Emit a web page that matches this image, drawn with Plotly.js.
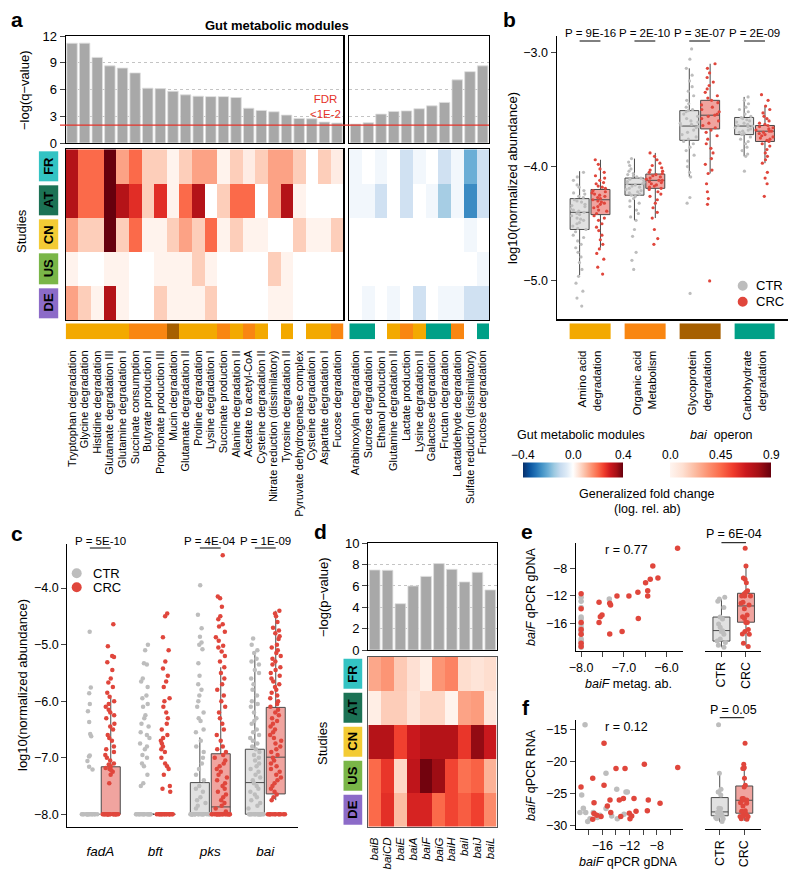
<!DOCTYPE html>
<html>
<head>
<meta charset="utf-8">
<script src="https://cdn.plot.ly/plotly-3.0.1.min.js"></script>
<style>html,body{margin:0;padding:0;background:#fff;}#chart{width:800px;height:880px;}</style>
</head>
<body>
<div id="chart"></div>
<script>
// ================= DATA =================
// ---- Panel a ----
const modulesLeft = ['Tryptophan degradation','Glycine degradation','Histidine degradation','Glutamate degradation III','Glutamine degradation I','Succinate consumption','Butyrate production I','Proprionate production III','Mucin degradation','Glutamate degradation II','Proline degradation','Lysine degradation I','Succinate production','Alanine degradation II','Acetate to acetyl-CoA','Cysteine degradation II','Nitrate reduction (dissimilatory)','Tyrosine degradation II','Pyruvate dehydrogenase complex','Cysteine degradation I','Aspartate degradation I','Fucose degradation'];
const qLeft = [11.18,11.2,9.6,8.65,8.4,7.86,6.15,6.1,5.8,5.4,5.25,5.2,5.2,5.1,3.9,3.65,3.5,3.13,2.76,2.72,2.35,2.24];
const modulesRight = ['Arabinoxylan degradation','Sucrose degradation I','Ethanol production I','Glutamine degradation II','Lactate production','Lysine degradation II','Galactose degradation','Fructan degradation','Lactaldehyde degradation','Sulfate reduction (dissimilatory)','Fructose degradation'];
const qRight = [2.12,2.27,3.24,3.54,3.6,3.84,4.17,4.55,7.08,8.0,8.65];
const catLeft = ['AA','AA','AA','AA','AA','OA','OA','OA','GP','AA','AA','AA','OA','AA','OA','AA',null,'AA',null,'AA','AA','OA'];
const catRight = ['CH','CH',null,'AA','OA','AA','CH','CH','OA',null,'CH'];
const categoryKeys = ['AA','OA','GP','CH'];
const categoryLabels = ['Amino acid<br>degradation','Organic acid<br>Metabolism','Glycoprotein<br>degradation','Carbohydrate<br>degradation'];
const categoryColors = ['#f3a900','#f98611','#a65f00','#00a087'];
const studies = ['FR','AT','CN','US','DE'];
const studyColors = ['#33c3c3','#1c7255','#f3cb35','#7ab648','#8c6bc8'];
const fcLeft = [
 [0.33,0.2,0.2,0.4,0.13,0.2,0.075,0.075,0.02,0.075,0.13,0.13,0.02,0.075,0.03,0.075,0.13,0.13,0.075,0,0.075,0.03],
 [0.33,0.2,0.2,0.4,0.33,0.27,0.075,0.27,0.02,0.2,0.33,0,0.075,0.2,0.2,0,0.13,0.33,0.02,0,0,0],
 [0.13,0.075,0.075,0.4,0.075,0.2,0.02,0.02,0.075,0.13,0.075,0.2,0.02,0.075,0.02,0.02,0,0,0.075,0.02,0.02,0.075],
 [0.02,0,0,0.02,0.02,0,0,0.02,0.02,0.02,0.075,0.02,0,0,0,0,0.075,0.02,0,0,0,0],
 [0.13,0.075,0.02,0.33,0.02,0,0,0.075,0.02,0.02,0.02,0.075,0,0,0,0,0.02,0.02,0,0,0,0]
];
const fcRight = [
 [-0.02,0,-0.02,0,-0.08,-0.02,0,-0.08,-0.02,-0.2,-0.08],
 [-0.02,-0.02,-0.08,0,-0.08,0,-0.02,-0.14,-0.02,-0.26,-0.08],
 [0,0,0,0,0,0,0,0,0,-0.02,0],
 [0,0,0,0,0,0,0,0,0,0,-0.02],
 [0,-0.02,0,-0.02,0,-0.08,0,-0.02,-0.02,-0.08,-0.08]
];

// ---- Panel b ----
const bPvals = ['P = 9E-16','P = 2E-10','P = 3E-07','P = 2E-09'];
const bCtrQ1 = [-4.55,-4.25,-3.77,-3.72], bCtrMed = [-4.40,-4.155,-3.645,-3.645], bCtrQ3 = [-4.28,-4.10,-3.51,-3.57], bCtrLo = [-4.95,-4.47,-4.09,-3.91], bCtrHi = [-4.04,-3.93,-3.14,-3.39];
const bCrcQ1 = [-4.42,-4.19,-3.67,-3.78], bCrcMed = [-4.29,-4.12,-3.55,-3.69], bCrcQ3 = [-4.20,-4.065,-3.42,-3.64], bCrcLo = [-4.71,-4.45,-4.06,-3.97], bCrcHi = [-3.94,-3.88,-3.10,-3.47];
const bAminoCtr = [-4.05,-4.09,-4.12,-4.16,-4.18,-4.21,-4.23,-4.24,-4.26,-4.27,-4.29,-4.3,-4.31,-4.33,-4.34,-4.35,-4.37,-4.38,-4.39,-4.4,-4.41,-4.42,-4.43,-4.45,-4.46,-4.47,-4.49,-4.5,-4.52,-4.54,-4.55,-4.57,-4.6,-4.62,-4.65,-4.68,-4.71,-4.75,-4.79,-4.84,-4.9,-4.96,-5.02,-5.09,-5.15,-5.22];
const bAminoCrc = [-3.94,-3.98,-4.02,-4.05,-4.08,-4.1,-4.12,-4.14,-4.15,-4.17,-4.18,-4.19,-4.21,-4.22,-4.23,-4.24,-4.25,-4.26,-4.27,-4.28,-4.29,-4.3,-4.31,-4.32,-4.33,-4.35,-4.36,-4.38,-4.39,-4.41,-4.43,-4.45,-4.47,-4.5,-4.53,-4.56,-4.6,-4.64,-4.68,-4.72,-4.76,-4.81,-4.88,-4.94];
const bOrgCtr = [-3.93,-3.96,-3.99,-4.02,-4.04,-4.06,-4.07,-4.08,-4.09,-4.1,-4.11,-4.12,-4.13,-4.14,-4.15,-4.15,-4.16,-4.17,-4.18,-4.19,-4.2,-4.21,-4.22,-4.23,-4.24,-4.25,-4.26,-4.28,-4.3,-4.32,-4.35,-4.38,-4.41,-4.44,-4.47,-4.55,-4.61,-4.75,-4.82,-4.9];
const bOrgCrc = [-3.88,-3.91,-3.94,-3.97,-3.99,-4.01,-4.03,-4.04,-4.05,-4.06,-4.07,-4.08,-4.09,-4.1,-4.11,-4.12,-4.12,-4.13,-4.14,-4.15,-4.16,-4.17,-4.18,-4.19,-4.2,-4.22,-4.24,-4.26,-4.29,-4.32,-4.36,-4.4,-4.45,-4.55,-4.63,-4.68];
const bGlyCtr = [-2.97,-3.06,-3.14,-3.2,-3.25,-3.3,-3.34,-3.38,-3.42,-3.45,-3.48,-3.5,-3.51,-3.52,-3.54,-3.56,-3.58,-3.6,-3.61,-3.62,-3.63,-3.64,-3.65,-3.66,-3.68,-3.7,-3.72,-3.74,-3.76,-3.78,-3.8,-3.83,-3.86,-3.9,-3.95,-4.0,-4.05,-4.09,-4.27,-4.32,-5.11];
const bGlyCrc = [-3.1,-3.14,-3.18,-3.22,-3.26,-3.29,-3.32,-3.35,-3.38,-3.4,-3.42,-3.44,-3.46,-3.48,-3.5,-3.52,-3.54,-3.55,-3.56,-3.58,-3.6,-3.62,-3.64,-3.66,-3.68,-3.7,-3.73,-3.76,-3.8,-3.84,-3.88,-3.93,-3.98,-4.03,-4.06,-4.15,-4.22,-4.28,-4.33,-5.0];
const bCarbCtr = [-3.39,-3.42,-3.45,-3.48,-3.5,-3.52,-3.54,-3.56,-3.57,-3.58,-3.59,-3.6,-3.61,-3.62,-3.63,-3.64,-3.645,-3.65,-3.66,-3.67,-3.68,-3.69,-3.7,-3.71,-3.72,-3.74,-3.76,-3.78,-3.8,-3.83,-3.86,-3.89,-3.91,-4.04];
const bCarbCrc = [-3.37,-3.42,-3.47,-3.5,-3.53,-3.56,-3.58,-3.6,-3.62,-3.63,-3.64,-3.65,-3.66,-3.67,-3.68,-3.69,-3.69,-3.7,-3.71,-3.72,-3.73,-3.74,-3.75,-3.76,-3.77,-3.78,-3.8,-3.82,-3.85,-3.88,-3.91,-3.94,-3.97,-4.05,-4.1,-4.15,-4.26];

// ---- Panel c ----
const cGenes = ['fadA','bft','pks','bai'];
const cPvals = ['P = 5E-10','','P = 4E-04','P = 1E-09'];
const cCtrQ1 = [-8,-8,-8,-8], cCtrMed = [-8,-8,-8,-7.44], cCtrQ3 = [-8,-8,-7.44,-6.85], cCtrLo = [-8,-8,-8,-8], cCtrHi = [-8,-8,-6.64,-5.18];
const cCrcQ1 = [-8,-8,-8,-7.64], cCrcMed = [-8,-8,-7.87,-6.99], cCrcQ3 = [-7.16,-8,-6.93,-6.11], cCrcLo = [-8,-8,-8,-7.75], cCrcHi = [-5.94,-8,-5.40,-4.40];
const cFadaCtr = [-4.77,-5.76,-5.86,-6.05,-6.18,-6.37,-6.58,-6.62,-6.96,-6.98,-7.06,-7.16,-7.21,-8,-8,-8,-8,-8,-8,-8,-8,-8,-8,-8,-8,-8,-8,-8];
const cFadaCrc = [-4.64,-5.03,-5.2,-5.22,-5.31,-5.45,-5.6,-5.67,-5.75,-5.85,-5.92,-6.0,-6.05,-6.1,-6.15,-6.2,-6.25,-6.3,-6.4,-6.45,-6.5,-6.6,-6.65,-6.7,-6.8,-6.85,-6.9,-6.95,-7.0,-7.05,-7.1,-7.12,-7.15,-7.18,-7.2,-7.22,-7.25,-7.3,-7.45,-8,-8,-8,-8,-8,-8,-8,-8,-8,-8,-8,-8,-8,-8,-8,-8,-8,-8];
const cBftCtr = [-5.0,-5.1,-5.33,-5.35,-5.6,-5.65,-5.75,-5.9,-5.95,-6.05,-6.1,-6.25,-6.3,-6.4,-6.45,-6.55,-6.6,-6.65,-6.75,-6.8,-6.85,-6.95,-7.0,-7.1,-7.15,-7.3,-7.45,-7.5,-8,-8,-8,-8,-8,-8,-8,-8,-8,-8,-8,-8,-8,-8,-8];
const cBftCrc = [-4.45,-4.5,-4.87,-5.1,-5.3,-5.42,-5.55,-5.65,-5.75,-5.95,-6.0,-6.1,-6.2,-6.3,-6.4,-6.5,-6.6,-6.65,-6.7,-6.75,-6.8,-6.85,-6.9,-7.0,-7.1,-7.15,-7.2,-7.3,-7.5,-7.55,-7.6,-8,-8,-8,-8,-8,-8,-8,-8,-8,-8,-8,-8,-8,-8,-8];
const cPksCtr = [-3.95,-4.47,-4.71,-4.86,-4.96,-5.0,-5.08,-5.33,-5.55,-5.7,-5.8,-5.9,-6.0,-6.1,-6.2,-6.3,-6.35,-6.5,-6.55,-6.7,-6.8,-6.9,-7.0,-7.1,-7.2,-7.3,-7.4,-7.5,-7.55,-7.6,-7.7,-7.75,-7.8,-7.85,-7.9,-8,-8,-8,-8,-8,-8,-8,-8,-8,-8,-8,-8,-8,-8,-8,-8,-8,-8,-8,-8];
const cPksCrc = [-3.42,-4.15,-4.18,-4.33,-4.5,-4.55,-4.64,-4.68,-4.77,-4.87,-4.93,-5.02,-5.05,-5.12,-5.2,-5.3,-5.4,-5.5,-5.6,-5.7,-5.8,-5.9,-6.0,-6.1,-6.2,-6.3,-6.4,-6.5,-6.6,-6.7,-6.8,-6.85,-6.9,-6.95,-7.0,-7.05,-7.1,-7.15,-7.2,-7.25,-7.3,-7.35,-7.4,-7.45,-7.5,-7.55,-7.6,-7.65,-7.7,-7.75,-7.8,-7.85,-7.9,-7.95,-8,-8,-8,-8,-8,-8,-8,-8,-8,-8,-8,-8,-8,-8,-8,-8,-8,-8,-8,-8];
const cBaiCtr = [-4.89,-5.0,-5.1,-5.15,-5.25,-5.3,-5.35,-5.45,-5.5,-5.6,-5.7,-5.8,-5.9,-6.0,-6.05,-6.1,-6.2,-6.3,-6.35,-6.4,-6.5,-6.55,-6.6,-6.65,-6.7,-6.75,-6.8,-6.85,-6.9,-6.95,-7.0,-7.05,-7.1,-7.15,-7.2,-7.25,-7.3,-7.35,-7.4,-7.45,-7.5,-7.55,-7.6,-7.65,-7.7,-7.75,-7.8,-7.85,-7.9,-8,-8,-8,-8,-8,-8,-8,-8,-8,-8,-8,-8,-8,-8,-8,-8];
const cBaiCrc = [-4.4,-4.45,-4.5,-4.6,-4.7,-4.75,-4.8,-4.85,-4.9,-5.0,-5.05,-5.1,-5.15,-5.2,-5.25,-5.3,-5.35,-5.4,-5.45,-5.5,-5.55,-5.6,-5.65,-5.7,-5.75,-5.8,-5.85,-5.9,-5.95,-6.0,-6.05,-6.1,-6.15,-6.2,-6.25,-6.3,-6.35,-6.4,-6.45,-6.5,-6.55,-6.6,-6.65,-6.7,-6.75,-6.8,-6.85,-6.9,-6.95,-7.0,-7.05,-7.1,-7.15,-7.2,-7.25,-7.3,-7.35,-7.4,-7.45,-7.5,-7.55,-7.6,-7.65,-7.7,-7.75,-8,-8,-8,-8,-8,-8,-8,-8,-8,-8,-8,-8];

// ---- Panel d ----
const baiGenes = ['baiB','baiCD','baiE','baiA','baiF','baiG','baiH','baiI','baiJ','baiL'];
const baiP = [7.5,7.47,4.34,6.0,6.9,8.1,7.56,6.38,7.28,5.63];
const baiFc = [
 [0.28,0.33,0.18,0.11,0.04,0.33,0.38,0.12,0.09,0.12],
 [0.04,0.17,0.17,0.09,0.14,0.14,0.01,0.29,0.31,0.08],
 [0.74,0.74,0.55,0.68,0.74,0.74,0.74,0.58,0.82,0.68],
 [0.45,0.58,0.14,0.71,0.88,0.8,0.54,0.43,0.47,0.25],
 [0.45,0.6,0.22,0.64,0.64,0.45,0.54,0.48,0.55,0.36]
];

// ---- Panel e ----
const eCtrX = [-8,-8,-8,-8,-8,-8,-8,-8,-8,-8,-8,-8,-8,-8,-8,-7.34];
const eCtrY = [-12.2,-12.8,-13.7,-15.1,-15.4,-16.1,-16.6,-17.1,-17.2,-17.6,-18.3,-18.6,-18.8,-19.2,-19.5,-12.47];
const eCrcX = [-5.74,-6.32,-6.38,-6.2,-6.49,-6.44,-6.44,-6.67,-6.88,-7.16,-7.31,-7.33,-7.58,-7.51,-7.55,-7.58,-6.66,-7.04,-7.33,-8,-8,-8,-8,-8,-8,-8];
const eCrcY = [-5.09,-7.67,-9.6,-9.4,-10.1,-11.26,-12.03,-11.5,-12.03,-12.03,-13.34,-13.1,-12.95,-14.8,-15.04,-15.9,-15.3,-17.2,-17.55,-11.7,-13.9,-15.9,-16.9,-17.6,-18.9,-19.4];
const eBoxQ1 = [-18.6,-15.85], eBoxMed = [-17.07,-13.48], eBoxQ3 = [-15.1,-11.64], eBoxLo = [-19.5,-19.4], eBoxHi = [-12.5,-7.6];

// ---- Panel f ----
const fCtrX = [-18.54,-19.03,-18.79,-19.28,-18.44,-18.15,-17.81,-17.32,-16.73,-16.34,-15.46,-15.46,-13.88,-13.8,-12.52,-12.81,-12.32,-14.62];
const fCtrY = [-14.2,-25.16,-27.23,-27.91,-27.91,-29.3,-28.85,-27.91,-28.69,-28.33,-21.77,-27.28,-24.27,-28.85,-24.69,-28.17,-24.69,-28.44];
const fCrcX = [-15.75,-19.13,-17.41,-15.75,-17.22,-13.99,-12.66,-9.82,-4.91,-14.87,-13.5,-12.9,-11.34,-9.24,-7.51,-15.26,-17.22,-16.82,-16.19,-14.76,-13.29,-12.03,-11.68,-11.04,-11.93,-9.38,-17.41];
const fCrcY = [-17.08,-23.9,-22.55,-23.64,-26.35,-21.03,-21.03,-20.36,-20.88,-25.94,-25.94,-25.72,-25.72,-25.94,-26.45,-26.88,-28.06,-28.33,-28.53,-27.91,-28.53,-28.02,-28.44,-27.7,-28.85,-27.6,-28.96];
const fBoxQ1 = [-28.4,-28.0], fBoxMed = [-27.8,-25.98], fBoxQ3 = [-25.56,-23.75], fBoxLo = [-29.4,-29.2], fBoxHi = [-21.77,-20.36];

// ================= STYLE / HELPERS =================
const FONT = 'Liberation Sans, Arial, Helvetica, sans-serif';
const W = 800, H = 880;
const hx = v => v / W, hy = v => 1 - v / H;
const dom = (a, b) => [a / W, b / W];
const vdom = (top, bot) => [1 - bot / H, 1 - top / H];
const CTR_PT = '#bdbdbd', CRC_PT = '#e0463c';
const CTR_FILL = 'rgba(200,200,200,0.55)', CRC_FILL = 'rgba(228,90,80,0.55)';

const divScale = [[0,'#08306b'],[0.0625,'#08519c'],[0.125,'#2171b5'],[0.1875,'#4292c6'],[0.25,'#6baed6'],[0.3125,'#9ecae1'],[0.375,'#c6dbef'],[0.4375,'#deebf7'],[0.5,'#ffffff'],[0.5625,'#fee0d2'],[0.625,'#fcbba1'],[0.6875,'#fc9272'],[0.75,'#fb6a4a'],[0.8125,'#ef3b2c'],[0.875,'#cb181d'],[0.9375,'#a50f15'],[1,'#67000d']];
const redScale = [[0,'#fff5f0'],[0.125,'#fee0d2'],[0.25,'#fcbba1'],[0.375,'#fc9272'],[0.5,'#fb6a4a'],[0.625,'#ef3b2c'],[0.75,'#cb181d'],[0.875,'#a50f15'],[1,'#67000d']];
function discreteScale(cols) {
  const n = cols.length, s = [];
  cols.forEach((c, i) => { s.push([i / n, c]); s.push([(i + 1) / n, c]); });
  return s;
}
const catScale = discreteScale(categoryColors);
const studyScale = discreteScale(studyColors);
const catIndex = k => k === null ? null : categoryKeys.indexOf(k);

const traces = [];
const shapes = [];
const annotations = [];
function ann(text, x, y, o) {
  annotations.push(Object.assign({text, x: hx(x), y: hy(y), xref: 'paper', yref: 'paper', showarrow: false,
    xanchor: 'center', yanchor: 'middle', font: {size: 12, family: FONT, color: '#000'}}, o || {}));
}

function statBox(cats, q1, med, q3, lo, hi, fill, ax, og) {
  return {type: 'box', x: cats, q1, median: med, q3, lowerfence: lo, upperfence: hi, boxpoints: false,
    fillcolor: fill, line: {color: '#4a4a4a', width: 1}, whiskerwidth: 0, offsetgroup: og,
    xaxis: 'x' + ax, yaxis: 'y' + ax, showlegend: false, hoverinfo: 'skip'};
}
function pointBox(xs, ys, color, size, jit, ax, og) {
  return {type: 'box', x: xs, y: ys, boxpoints: 'all', jitter: jit, pointpos: 0,
    marker: {color, size, line: {width: 0}}, fillcolor: 'rgba(0,0,0,0)', line: {width: 0, color: 'rgba(0,0,0,0)'},
    offsetgroup: og, xaxis: 'x' + ax, yaxis: 'y' + ax, showlegend: false, hoverinfo: 'skip'};
}
function repeatCats(cats, groups) {
  const xs = [], ys = [];
  groups.forEach((g, i) => g.forEach(v => { xs.push(cats[i]); ys.push(v); }));
  return {xs, ys};
}

// ================= PANEL a =================
traces.push({type: 'bar', x: modulesLeft, y: qLeft, xaxis: 'x', yaxis: 'y', marker: {color: '#a8a8a8', line: {color: '#dedede', width: 0.8}}, hoverinfo: 'skip'});
traces.push({type: 'bar', x: modulesRight, y: qRight, xaxis: 'x2', yaxis: 'y2', marker: {color: '#a8a8a8', line: {color: '#dedede', width: 0.8}}, hoverinfo: 'skip'});
traces.push({type: 'heatmap', x: modulesLeft, y: studies, z: fcLeft, zmin: -0.4, zmax: 0.4, colorscale: divScale, xaxis: 'x3', yaxis: 'y3', hoverinfo: 'skip',
  showscale: true, colorbar: {orientation: 'h', x: hx(573), xanchor: 'center', y: hy(470), yanchor: 'middle', len: 100, lenmode: 'pixels', thickness: 15, thicknessmode: 'pixels', outlinewidth: 0, showticklabels: false, ticks: '', xpad: 0, ypad: 0}});
traces.push({type: 'heatmap', x: modulesRight, y: studies, z: fcRight, zmin: -0.4, zmax: 0.4, colorscale: divScale, xaxis: 'x4', yaxis: 'y4', showscale: false, hoverinfo: 'skip'});
traces.push({type: 'heatmap', x: modulesLeft, y: ['c'], z: [catLeft.map(catIndex)], zmin: 0, zmax: 3, colorscale: catScale, showscale: false, xaxis: 'x5', yaxis: 'y5', hoverinfo: 'skip'});
traces.push({type: 'heatmap', x: modulesRight, y: ['c'], z: [catRight.map(catIndex)], zmin: 0, zmax: 3, colorscale: catScale, showscale: false, xaxis: 'x6', yaxis: 'y6', hoverinfo: 'skip'});
traces.push({type: 'heatmap', x: ['s'], y: studies, z: studies.map((s, i) => [i]), zmin: 0, zmax: 4, colorscale: studyScale, showscale: false, ygap: 4, xaxis: 'x7', yaxis: 'y7', hoverinfo: 'skip'});

// ================= PANEL b =================
const bGroups = categoryKeys;
traces.push(statBox(bGroups, bCtrQ1, bCtrMed, bCtrQ3, bCtrLo, bCtrHi, CTR_FILL, 8, 'ctr'));
traces.push(statBox(bGroups, bCrcQ1, bCrcMed, bCrcQ3, bCrcLo, bCrcHi, CRC_FILL, 8, 'crc'));
const bC = repeatCats(bGroups, [bAminoCtr, bOrgCtr, bGlyCtr, bCarbCtr]);
const bR = repeatCats(bGroups, [bAminoCrc, bOrgCrc, bGlyCrc, bCarbCrc]);
traces.push(pointBox(bC.xs, bC.ys, CTR_PT, 3.2, 1, 8, 'ctr'));
traces.push(pointBox(bR.xs, bR.ys, CRC_PT, 3.2, 1, 8, 'crc'));
traces.push({type: 'heatmap', x: bGroups, y: ['c'], z: [bGroups.map((g, i) => i)], zmin: 0, zmax: 3, colorscale: catScale, showscale: false, xgap: 14, xaxis: 'x9', yaxis: 'y9', hoverinfo: 'skip'});

// ================= PANEL c =================
traces.push(statBox(cGenes, cCtrQ1, cCtrMed, cCtrQ3, cCtrLo, cCtrHi, CTR_FILL, 10, 'ctr'));
traces.push(statBox(cGenes, cCrcQ1, cCrcMed, cCrcQ3, cCrcLo, cCrcHi, CRC_FILL, 10, 'crc'));
const cC = repeatCats(cGenes, [cFadaCtr, cBftCtr, cPksCtr, cBaiCtr]);
const cR = repeatCats(cGenes, [cFadaCrc, cBftCrc, cPksCrc, cBaiCrc]);
traces.push(pointBox(cC.xs, cC.ys, CTR_PT, 4.5, 1, 10, 'ctr'));
traces.push(pointBox(cR.xs, cR.ys, CRC_PT, 4.5, 1, 10, 'crc'));

// ================= PANEL d =================
traces.push({type: 'bar', x: baiGenes, y: baiP, xaxis: 'x11', yaxis: 'y11', marker: {color: '#a8a8a8', line: {color: '#dedede', width: 0.8}}, hoverinfo: 'skip'});
traces.push({type: 'heatmap', x: baiGenes, y: studies, z: baiFc, zmin: 0, zmax: 0.9, colorscale: redScale, xaxis: 'x12', yaxis: 'y12', hoverinfo: 'skip',
  showscale: true, colorbar: {orientation: 'h', x: hx(720.5), xanchor: 'center', y: hy(470), yanchor: 'middle', len: 101, lenmode: 'pixels', thickness: 15, thicknessmode: 'pixels', outlinewidth: 0, showticklabels: false, ticks: '', xpad: 0, ypad: 0}});
traces.push({type: 'heatmap', x: ['s'], y: studies, z: studies.map((s, i) => [i]), zmin: 0, zmax: 4, colorscale: studyScale, showscale: false, ygap: 4, xaxis: 'x13', yaxis: 'y13', hoverinfo: 'skip'});

// ================= PANEL e =================
traces.push({type: 'scatter', mode: 'markers', x: eCtrX, y: eCtrY, marker: {color: CTR_PT, size: 5.5}, xaxis: 'x14', yaxis: 'y14', hoverinfo: 'skip', cliponaxis: false});
traces.push({type: 'scatter', mode: 'markers', x: eCrcX, y: eCrcY, marker: {color: CRC_PT, size: 5.5}, xaxis: 'x14', yaxis: 'y14', hoverinfo: 'skip', cliponaxis: false});
traces.push(statBox(['CTR'], [eBoxQ1[0]], [eBoxMed[0]], [eBoxQ3[0]], [eBoxLo[0]], [eBoxHi[0]], CTR_FILL, 15, 'e'));
traces.push(statBox(['CRC'], [eBoxQ1[1]], [eBoxMed[1]], [eBoxQ3[1]], [eBoxLo[1]], [eBoxHi[1]], CRC_FILL, 15, 'e'));
traces.push(pointBox(eCtrY.map(() => 'CTR'), eCtrY, CTR_PT, 5, 0.6, 15, 'e'));
traces.push(pointBox(eCrcY.map(() => 'CRC'), eCrcY, CRC_PT, 5, 0.6, 15, 'e'));

// ================= PANEL f =================
traces.push({type: 'scatter', mode: 'markers', x: fCtrX, y: fCtrY, marker: {color: CTR_PT, size: 5.5}, xaxis: 'x16', yaxis: 'y16', hoverinfo: 'skip', cliponaxis: false});
traces.push({type: 'scatter', mode: 'markers', x: fCrcX, y: fCrcY, marker: {color: CRC_PT, size: 5.5}, xaxis: 'x16', yaxis: 'y16', hoverinfo: 'skip', cliponaxis: false});
traces.push(statBox(['CTR'], [fBoxQ1[0]], [fBoxMed[0]], [fBoxQ3[0]], [fBoxLo[0]], [fBoxHi[0]], CTR_FILL, 17, 'f'));
traces.push(statBox(['CRC'], [fBoxQ1[1]], [fBoxMed[1]], [fBoxQ3[1]], [fBoxLo[1]], [fBoxHi[1]], CRC_FILL, 17, 'f'));
traces.push(pointBox(fCtrY.map(() => 'CTR'), fCtrY, CTR_PT, 5, 0.6, 17, 'f'));
traces.push(pointBox(fCrcY.map(() => 'CRC'), fCrcY, CRC_PT, 5, 0.6, 17, 'f'));

// ================= AXES =================
const layout = {
  width: W, height: H, margin: {l: 0, r: 0, t: 0, b: 0}, paper_bgcolor: '#fff', plot_bgcolor: 'rgba(0,0,0,0)',
  font: {family: FONT, size: 12, color: '#000'}, showlegend: false,
  bargap: 0.17, boxmode: 'group', boxgap: 0.24, boxgroupgap: 0.09, shapes, annotations
};
const hidden = {showgrid: false, zeroline: false, showticklabels: false, ticks: '', showline: false, fixedrange: true};
function setAx(n, xa, ya) {
  const k = n === 1 ? '' : n;
  layout['xaxis' + k] = Object.assign({}, hidden, {anchor: 'y' + k}, xa);
  layout['yaxis' + k] = Object.assign({}, hidden, {anchor: 'x' + k}, ya);
}
const boxLine = {showline: true, mirror: true, linecolor: '#000', linewidth: 1.2};
const barY = {range: [0, 12], tickvals: [0, 3, 6, 9, 12], showgrid: true, gridcolor: '#c4c4c4', griddash: 'dot', gridwidth: 1};
const allTicks = arr => ({tickmode: 'array', tickvals: arr, ticktext: arr});

// a
setAx(1, Object.assign({domain: dom(65.7, 343.3), type: 'category', range: [-0.5, 21.5]}, boxLine),
         Object.assign({domain: vdom(36, 143)}, barY, boxLine, {showticklabels: true, ticks: 'outside', ticklen: 5, tickfont: {size: 13}}));
setAx(2, Object.assign({domain: dom(349.3, 489), type: 'category', range: [-0.5, 10.5]}, boxLine),
         Object.assign({domain: vdom(36, 143)}, barY, boxLine));
setAx(3, Object.assign({domain: dom(65.7, 343.3), type: 'category'}, boxLine),
         Object.assign({domain: vdom(149.3, 320), type: 'category', autorange: 'reversed'}, boxLine));
setAx(4, Object.assign({domain: dom(349.3, 489), type: 'category'}, boxLine),
         Object.assign({domain: vdom(149.3, 320), type: 'category', autorange: 'reversed'}, boxLine));
setAx(5, Object.assign({domain: dom(65.7, 343.3), type: 'category', showticklabels: true, tickangle: -90, tickfont: {size: 11}, ticklabelstandoff: 8}, allTicks(modulesLeft)),
         {domain: vdom(323.3, 339.3), type: 'category'});
setAx(6, Object.assign({domain: dom(349.3, 489), type: 'category', showticklabels: true, tickangle: -90, tickfont: {size: 11}, ticklabelstandoff: 8}, allTicks(modulesRight)),
         {domain: vdom(323.3, 339.3), type: 'category'});
setAx(7, {domain: dom(38.7, 58.3), type: 'category'},
         {domain: vdom(149.3, 320), type: 'category', autorange: 'reversed'});
// b
setAx(8, {domain: dom(556.7, 788), type: 'category', categoryarray: bGroups, range: [-0.608, 3.61], showline: true, linecolor: '#000', linewidth: 1.2},
         {domain: vdom(36, 319.3), range: [-5.336, -2.857], tickvals: [-5, -4, -3], tickformat: '.1f', showticklabels: true, ticks: 'outside', ticklen: 5, showline: true, linecolor: '#000', linewidth: 1.2, tickfont: {size: 12.5}});
setAx(9, {domain: dom(556.7, 788), type: 'category', categoryarray: bGroups, range: [-0.608, 3.61], showticklabels: true, tickmode: 'array', tickvals: bGroups, ticktext: categoryLabels, tickangle: -90, tickfont: {size: 11.5}, ticklabelstandoff: 8},
         {domain: vdom(323.3, 339.3), type: 'category'});
// c
setAx(10, {domain: dom(67.3, 298.3), type: 'category', categoryarray: cGenes, range: [-0.6, 3.6], showline: true, linecolor: '#000', linewidth: 1.2, showticklabels: true, tickfont: {size: 13.5, style: 'italic'}, ticklabelstandoff: 12},
          {domain: vdom(544, 826.7), range: [-8.22, -3.22], tickvals: [-8, -7, -6, -5, -4], tickformat: '.1f', showticklabels: true, ticks: 'outside', ticklen: 5, showline: true, linecolor: '#000', linewidth: 1.2, tickfont: {size: 12.5}});
// d
setAx(11, Object.assign({domain: dom(368.3, 496.7), type: 'category', range: [-0.5, 9.5]}, boxLine),
          Object.assign({domain: vdom(543.3, 650), range: [0, 10], tickvals: [0, 2, 4, 6, 8, 10], showgrid: true, gridcolor: '#c4c4c4', griddash: 'dot', showticklabels: true, ticks: 'outside', ticklen: 5, tickfont: {size: 13}}, boxLine));
setAx(12, Object.assign({domain: dom(368.3, 496.7), type: 'category', showline: true, mirror: true, linecolor: '#555', linewidth: 1.2, showticklabels: true, tickangle: -90, tickfont: {size: 11.5, style: 'italic'}, ticklabelstandoff: 5}, allTicks(baiGenes)),
          {domain: vdom(656.7, 826.7), type: 'category', autorange: 'reversed', showline: true, mirror: true, linecolor: '#555', linewidth: 1.2});
setAx(13, {domain: dom(343.3, 362.7), type: 'category'},
          {domain: vdom(656.7, 826.7), type: 'category', autorange: 'reversed'});
// e
setAx(14, {domain: dom(576, 682.7), range: [-8.12, -5.62], tickvals: [-8, -7.5, -7, -6.5, -6], ticktext: ['\u22128.0', '', '\u22127.0', '', '\u22126.0'], showticklabels: true, ticks: 'outside', ticklen: 5, showline: true, linecolor: '#000', linewidth: 1.2, tickfont: {size: 12.5}},
          {domain: vdom(543.3, 650.7), range: [-20, -4.36], tickvals: [-8, -12, -16], showticklabels: true, ticks: 'outside', ticklen: 5, showline: true, linecolor: '#000', linewidth: 1.2, tickfont: {size: 12.5}});
setAx(15, {domain: dom(705, 760.7), type: 'category', categoryarray: ['CTR', 'CRC'], range: [-0.67, 1.6], showline: true, linecolor: '#000', linewidth: 1.2, ticks: 'outside', ticklen: 5, showticklabels: true, tickangle: -90, tickfont: {size: 12.5}},
          {domain: vdom(543.3, 650.7), range: [-20, -4.36]});
// f
setAx(16, {domain: dom(576, 682.7), range: [-19.87, -4.18], tickvals: [-18, -16, -14, -12, -10, -8, -6], ticktext: ['', '\u221216', '', '\u221212', '', '\u22128', ''], showticklabels: true, ticks: 'outside', ticklen: 5, showline: true, linecolor: '#000', linewidth: 1.2, tickfont: {size: 12.5}},
          {domain: vdom(720, 829), range: [-30.47, -13.44], tickvals: [-15, -20, -25, -30], showticklabels: true, ticks: 'outside', ticklen: 5, showline: true, linecolor: '#000', linewidth: 1.2, tickfont: {size: 12.5}});
setAx(17, {domain: dom(705, 760.7), type: 'category', categoryarray: ['CTR', 'CRC'], range: [-0.6, 1.67], showline: true, linecolor: '#000', linewidth: 1.2, ticks: 'outside', ticklen: 5, showticklabels: true, tickangle: -90, tickfont: {size: 12.5}},
          {domain: vdom(720, 829), range: [-30.47, -13.44]});

// ================= SHAPES =================
shapes.push({type: 'line', xref: 'paper', yref: 'y', x0: hx(60), x1: hx(489), y0: 2, y1: 2, line: {color: '#e5332a', width: 1.2}});
bPvals.forEach((p, i) => shapes.push({type: 'line', xref: 'x8', yref: 'paper', x0: i - 0.19, x1: i + 0.19, y0: hy(41), y1: hy(41), line: {color: '#000', width: 1}}));
cPvals.forEach((p, i) => { if (p) shapes.push({type: 'line', xref: 'x10', yref: 'paper', x0: i - 0.19, x1: i + 0.19, y0: hy(548), y1: hy(548), line: {color: '#000', width: 1}}); });
shapes.push({type: 'line', xref: 'x15', yref: 'paper', x0: 0, x1: 1, y0: hy(542.7), y1: hy(542.7), line: {color: '#000', width: 1}});
shapes.push({type: 'line', xref: 'x17', yref: 'paper', x0: 0, x1: 1, y0: hy(717.7), y1: hy(717.7), line: {color: '#000', width: 1}});
function legendDot(cx, cy, color) {
  shapes.push({type: 'circle', xref: 'paper', yref: 'paper', x0: hx(cx - 5), x1: hx(cx + 5), y0: hy(cy + 5), y1: hy(cy - 5), fillcolor: color, line: {width: 0}});
}
legendDot(742.7, 285.7, CTR_PT); legendDot(742.7, 301.7, CRC_PT);
legendDot(76.7, 573.3, CTR_PT); legendDot(76.7, 587.3, CRC_PT);

// ================= TEXT =================
const bold = {size: 21, family: FONT, color: '#000'};
ann('<b>a</b>', 17, 20, {font: bold});
ann('<b>b</b>', 510, 20, {font: bold});
ann('<b>c</b>', 17, 533, {font: bold});
ann('<b>d</b>', 320, 531, {font: bold});
ann('<b>e</b>', 527, 531, {font: bold});
ann('<b>f</b>', 526, 707, {font: bold});
ann('<b>Gut metabolic modules</b>', 277, 25.5, {font: {size: 13, family: FONT}});
ann('\u2212log(q\u2212value)', 24, 90, {textangle: -90, font: {size: 13, family: FONT}});
ann('Studies', 22, 231, {textangle: -90, font: {size: 13, family: FONT}});
ann('FDR<br><1E-2', 0, 0, {x: 20.1, y: 4.05, xref: 'x', yref: 'y', font: {size: 11.5, family: FONT, color: '#e5332a'}});
studies.forEach((s, i) => {
  annotations.push({text: '<b>' + s + '</b>', x: 0, y: i, xref: 'x7', yref: 'y7', showarrow: false, textangle: -90, font: {size: 13, family: FONT, color: '#000'}});
  annotations.push({text: '<b>' + s + '</b>', x: 0, y: i, xref: 'x13', yref: 'y13', showarrow: false, textangle: -90, font: {size: 13, family: FONT, color: '#000'}});
});
ann('log10(normalized abundance)', 512, 178, {textangle: -90, font: {size: 13, family: FONT}});
bPvals.forEach((p, i) => annotations.push({text: p, x: i, xref: 'x8', y: hy(33), yref: 'paper', yanchor: 'middle', xanchor: 'center', showarrow: false, font: {size: 11.5, family: FONT}}));
ann('CTR', 754, 285.7, {xanchor: 'left', font: {size: 13, family: FONT}});
ann('CRC', 754, 301.7, {xanchor: 'left', font: {size: 13, family: FONT}});
// colorbars
ann('Gut metabolic modules', 581, 435, {font: {size: 12.5, family: FONT}});
ann('<i>bai</i>  operon', 721, 435, {font: {size: 12.5, family: FONT}});
[['\u22120.4', 523], ['0.0', 573], ['0.4', 623], ['0.0', 670], ['0.45', 720.5], ['0.9', 771]].forEach(t => ann(t[0], t[1], 455, {font: {size: 12, family: FONT}}));
ann('Generalized fold change', 647, 494, {font: {size: 12.5, family: FONT}});
ann('(log. rel. ab)', 647, 509, {font: {size: 12.5, family: FONT}});
// c
ann('log10(normalized abundance)', 22, 685, {textangle: -90, font: {size: 13, family: FONT}});
cPvals.forEach((p, i) => { if (p) annotations.push({text: p, x: i, xref: 'x10', y: hy(541), yref: 'paper', yanchor: 'middle', xanchor: 'center', showarrow: false, font: {size: 11.5, family: FONT}}); });
ann('CTR', 90.7, 573.3, {xanchor: 'left', font: {size: 13, family: FONT}});
ann('CRC', 90.7, 587.3, {xanchor: 'left', font: {size: 13, family: FONT}});
// d
ann('\u2212log(p\u2212value)', 323, 597, {textangle: -90, font: {size: 13, family: FONT}});
ann('Studies', 322, 743, {textangle: -90, font: {size: 13, family: FONT}});
// e
ann('<i>baiF</i> qPCR gDNA', 531, 597, {textangle: -90, font: {size: 12.5, family: FONT}});
ann('<i>baiF</i> metag. ab.', 628, 684, {font: {size: 12.5, family: FONT}});
ann('r = 0.77', 626, 550, {font: {size: 12.5, family: FONT}});
ann('P = 6E-04', 734, 534, {font: {size: 12.5, family: FONT}});
// f
ann('<i>baiF</i> qPCR RNA', 531, 775, {textangle: -90, font: {size: 12.5, family: FONT}});
ann('<i>baiF</i> qPCR gDNA', 628, 862, {font: {size: 12.5, family: FONT}});
ann('r = 0.12', 626, 727, {font: {size: 12.5, family: FONT}});
ann('P = 0.05', 733, 710, {font: {size: 12.5, family: FONT}});

Plotly.newPlot('chart', traces, layout, {staticPlot: true, displayModeBar: false});
</script>
</body>
</html>
